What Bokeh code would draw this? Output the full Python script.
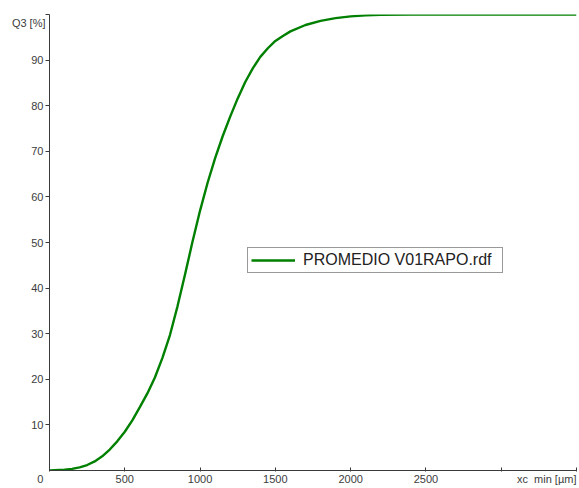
from bokeh.plotting import figure
from bokeh.models import Range1d, FixedTicker, Label, Legend, LegendItem
from bokeh.embed import file_html
from bokeh.resources import INLINE

# data
size_um = [0, 100, 150, 200, 250, 300, 350, 400, 450, 500, 550, 600, 650, 700, 750, 800,
           850, 900, 950, 1000, 1050, 1100, 1150, 1200, 1250, 1300, 1350, 1400, 1450,
           1500, 1550, 1600, 1700, 1800, 1900, 2000, 2100, 2200, 2400, 3000, 3500]
q3_pct = [0.0, 0.15, 0.35, 0.7, 1.2, 2.0, 3.1, 4.6, 6.4, 8.5, 11.0, 13.9, 16.9, 20.4, 24.7, 29.7,
          36.0, 43.0, 50.2, 57.0, 63.1, 68.5, 73.3, 77.6, 81.6, 85.2, 88.2, 90.7, 92.6,
          94.2, 95.3, 96.3, 97.7, 98.6, 99.2, 99.6, 99.8, 99.95, 100.0, 100.0, 100.0]
x_ticks = [0, 500, 1000, 1500, 2000, 2500, 3000, 3500]
y_ticks = [10, 20, 30, 40, 50, 60, 70, 80, 90, 100]
series_name = "PROMEDIO V01RAPO.rdf"
x_title = "xc\u00a0\u00a0min [µm]"
y_title = "Q3 [%]"

FONT = "Liberation Sans"
AXIS_COLOR = "#3a3a3a"
LABEL_COLOR = "#3c3c3c"
GREEN = "#008000"
NB = "\u00a0"

p = figure(width=579, height=488, output_backend="svg", toolbar_location=None,
           x_range=Range1d(0, 3500), y_range=Range1d(0, 100),
           min_border_left=49, min_border_right=3, min_border_top=14, min_border_bottom=18)
p.outline_line_color = None
p.xgrid.visible = False
p.ygrid.visible = False
p.background_fill_color = "white"

r = p.line(size_um, q3_pct, line_color=GREEN, line_width=2.4)

# x axis (the "0" label is padded to sit left of its tick; the title replaces the 3500 label)
xa = p.xaxis[0]
xa.ticker = FixedTicker(ticks=x_ticks)
xa.minor_tick_line_color = None
xa.major_tick_in = 3
xa.major_tick_out = 1
xa.axis_line_color = AXIS_COLOR
xa.major_tick_line_color = AXIS_COLOR
xa.major_label_text_font = FONT
xa.major_label_text_font_size = "11px"
xa.major_label_text_color = LABEL_COLOR
xa.major_label_standoff = 1
xa.major_label_overrides = {0: str(x_ticks[0]) + NB * 6, 3000: "", 3500: x_title + NB}

# y axis
ya = p.yaxis[0]
ya.ticker = FixedTicker(ticks=y_ticks)
ya.minor_tick_line_color = None
ya.major_tick_in = 0
ya.major_tick_out = 4
ya.axis_line_color = AXIS_COLOR
ya.major_tick_line_color = AXIS_COLOR
ya.major_label_text_font = FONT
ya.major_label_text_font_size = "11px"
ya.major_label_text_color = LABEL_COLOR
ya.major_label_standoff = 2
ya.major_label_overrides = {100: ""}

# y title, placed in the top panel so that it is not clipped to the frame
p.add_layout(Label(x=0, y=100, x_offset=-4, y_offset=-8, text=y_title,
                   text_align="right", text_baseline="middle",
                   text_font=FONT, text_font_size="11px", text_color=LABEL_COLOR), "above")

legend = Legend(items=[LegendItem(label=series_name, renderers=[r])],
                location=(198, 197), orientation="vertical")
legend.label_text_font = FONT
legend.label_text_font_size = "16px"
legend.label_text_color = "#222222"
legend.border_line_color = "#333333"
legend.border_line_width = 1
legend.background_fill_alpha = 1
legend.padding = 3
legend.margin = 0
legend.glyph_width = 44
legend.glyph_height = 16
legend.label_height = 16
legend.label_width = 196
legend.label_standoff = 8
p.add_layout(legend, "center")

open("out.html", "w").write(file_html(p, INLINE))
